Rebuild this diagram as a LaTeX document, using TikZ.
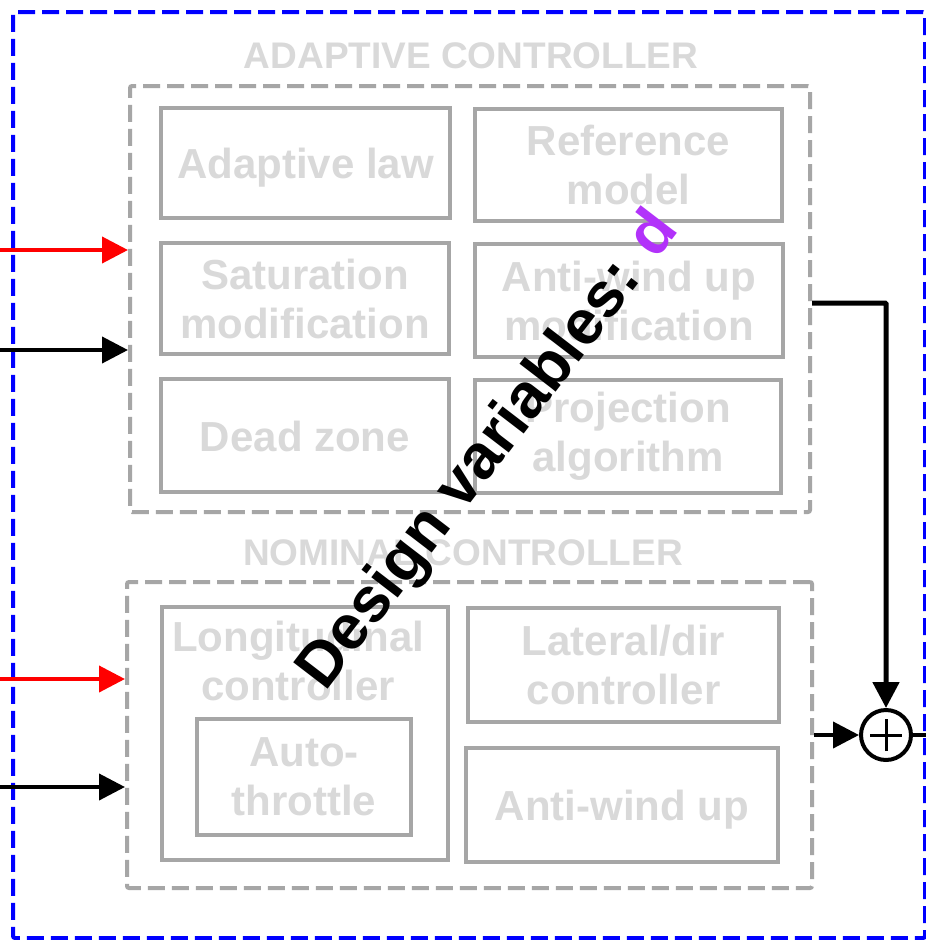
\documentclass[tikz,border=0pt]{standalone}
\usepackage{fontspec}
\setmainfont{Liberation Sans}
\usetikzlibrary{arrows.meta}
\definecolor{bgrey}{HTML}{A6A6A6}
\definecolor{tgrey}{HTML}{D9D9D9}
\definecolor{dpurple}{RGB}{178,50,250}
\begin{document}
\begin{tikzpicture}[x=1pt,y=-1pt,
  ibox/.style={draw=bgrey, line width=4pt, inner sep=0pt, fill=white, text=tgrey,
    font=\fontsize{42}{49}\selectfont\bfseries, align=center},
  oneline/.style={text height=40pt, text depth=9pt},
  itext/.style={text=tgrey, inner sep=0pt, font=\fontsize{42}{49}\selectfont\bfseries, align=center},
  grpbox/.style={draw=bgrey, line width=4pt, dash pattern=on 17pt off 7pt, rounded corners=2pt, inner sep=0pt},
  framebox/.style={draw=blue, line width=4pt, dash pattern=on 17pt off 7pt, rounded corners=2pt, inner sep=0pt},
  grptitle/.style={text=tgrey, font=\fontsize{37}{40}\selectfont\bfseries, inner sep=0pt},
  sig/.style={line width=4pt, -{Triangle[length=26pt,width=26pt]}},
  sumnode/.style={circle, draw, line width=4pt, minimum size=50pt, inner sep=0pt},
  dvtext/.style={rotate=52.5, anchor=base west, inner sep=0pt, font=\fontsize{63}{63}\selectfont\bfseries}
]
\useasboundingbox (0,0) rectangle (926,940);
\fill[white] (0,0) rectangle (926,940);

% outer frame
\node[framebox, minimum width=912pt, minimum height=926pt] (frame) at (469,475) {};

% group boxes
\node[grpbox, minimum width=680pt, minimum height=426pt] (adap) at (470,299) {};
\node[grpbox, minimum width=685pt, minimum height=306pt] (nom) at (469.5,735) {};

\node[grptitle] (tadap) at (471,56) {ADAPTIVE CONTROLLER};
\node[grptitle] (tnom) at (463,553) {NOMINAL CONTROLLER};

% adaptive controller blocks
\node[ibox, oneline, minimum width=289pt, minimum height=110pt] (alaw) at (305.5,163) {Adaptive law};
\node[ibox, minimum width=307pt, minimum height=112pt] (refm) at (628.5,165) {Reference\\model};
\node[ibox, minimum width=288pt, minimum height=111pt] (satm) at (305,298.5) {Saturation\\modification};
\node[ibox, minimum width=308pt, minimum height=113pt] (awm) at (629,300.5) {Anti-wind up\\modification};
\node[ibox, oneline, minimum width=288pt, minimum height=113pt] (dz) at (305,435.5) {Dead zone};
\node[ibox, minimum width=306pt, minimum height=113pt] (proj) at (628,436.5) {Projection\\algorithm};

% nominal controller blocks
\node[ibox, minimum width=286pt, minimum height=253pt] (lon) at (305,733.5) {};
\node[itext] (lontxt) at (298,661) {Longitudinal\\controller};
\node[ibox, minimum width=214pt, minimum height=116pt] (at) at (304,777) {Auto-\\throttle};
\node[ibox, minimum width=311pt, minimum height=114pt] (lat) at (623.5,665) {Lateral/dir\\controller};
\node[ibox, oneline, minimum width=312pt, minimum height=114pt] (awn) at (622,805) {Anti-wind up};

% summation
\node[sumnode] (sum) at (886,735) {};
\draw[line width=3pt] ([xshift=-16pt]sum.center) -- ([xshift=16pt]sum.center);
\draw[line width=3pt] ([yshift=-16pt]sum.center) -- ([yshift=16pt]sum.center);

% input signals
\coordinate (in1) at (0,250);
\coordinate (in2) at (0,350);
\coordinate (in3) at (0,679);
\coordinate (in4) at (0,787);
\draw[sig, red] (in1) -- (adap.west |- in1);
\draw[sig] (in2) -- (adap.west |- in2);
\draw[sig, red] (in3) -- (nom.west |- in3);
\draw[sig] (in4) -- (nom.west |- in4);

% outputs
\coordinate (ao) at (0,303);
\draw[sig, line width=5pt, rounded corners=1pt] (adap.east |- ao) -| (sum.north);
\draw[sig] (nom.east |- sum.west) -- (sum.west);
\coordinate (out) at (930,735);
\draw[line width=4pt] (sum.east) -- (out);

% diagonal annotation
\node[dvtext] (dv) at (325,693) {Design variables: \textcolor{dpurple}{d}};
\end{tikzpicture}
\end{document}
